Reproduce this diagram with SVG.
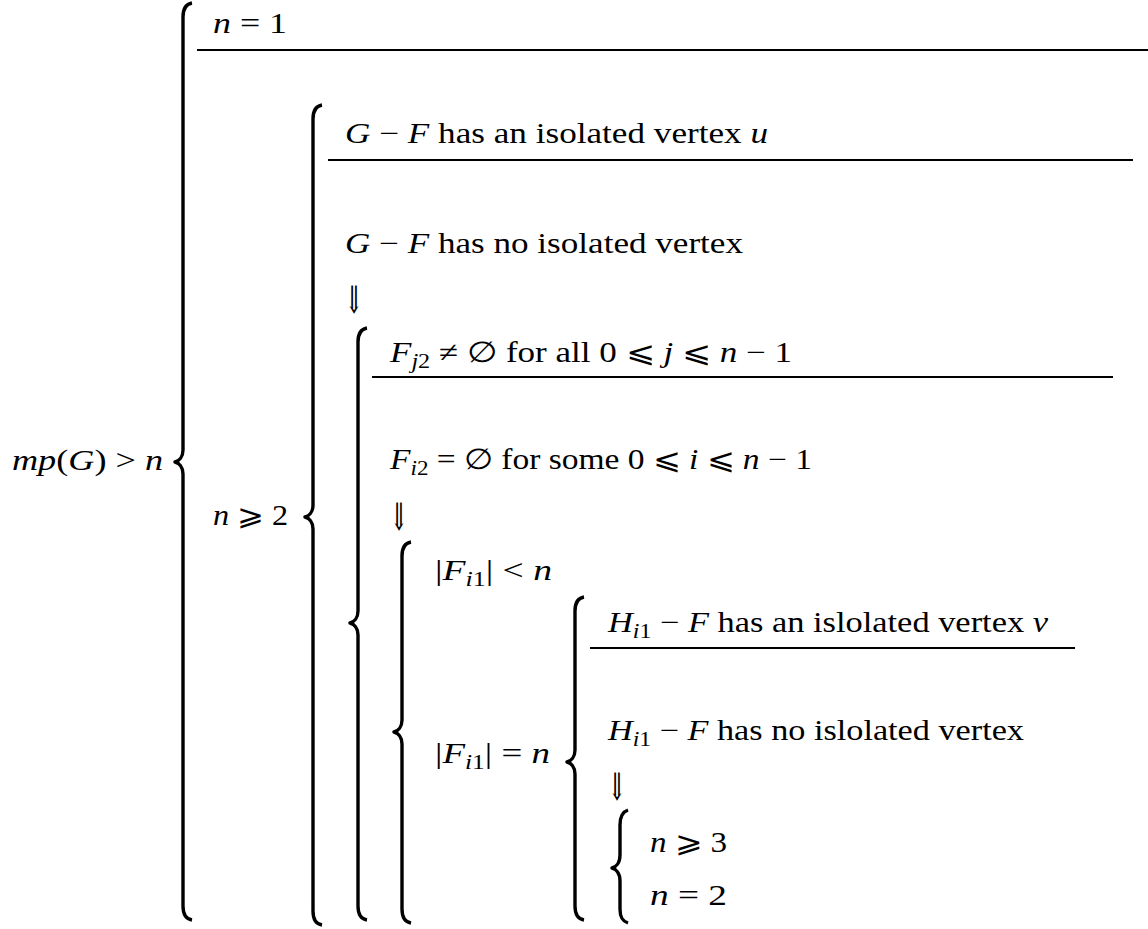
<svg xmlns="http://www.w3.org/2000/svg" width="1148" height="929" viewBox="0 0 1148 929">
<style>
text{font-family:"Liberation Serif","DejaVu Serif",serif;font-size:29px;fill:#000;}
.i{font-style:italic;}
.s{font-size:20px;}
.ar{font-family:"DejaVu Serif",serif;font-size:38px;}
.br{fill:none;stroke:#000;stroke-width:3.4;stroke-linejoin:round;}
.rule{stroke:#000;stroke-width:2;}
</style>
<rect width="1148" height="929" fill="#fff"/>
<g id="connectors">
<path class="br" d="M192,3 C186,4 183,9 183,17 L183,450 C183,457 179,461 175,462 C179,463 183,467 183,474 L183,906 C183,914 186,919 192,920"/>
<path class="br" d="M322,105 C316,106 313,111 313,119 L313,505 C313,512 309,516 305,517 C309,518 313,522 313,529 L313,911 C313,919 316,924 322,925"/>
<path class="br" d="M367,328 C361,329 358,334 358,342 L358,611 C358,618 354,622 350,623 C354,624 358,628 358,635 L358,906 C358,914 361,919 367,920"/>
<path class="br" d="M411,542 C405,543 402,548 402,556 L402,720 C402,727 398,731 394,732 C398,733 402,737 402,744 L402,909 C402,917 405,922 411,923"/>
<path class="br" d="M584,597 C578,598 575,603 575,611 L575,750 C575,757 571,761 567,762 C571,763 575,767 575,774 L575,906 C575,914 578,919 584,920"/>
<path class="br" d="M628,810 C622,812 620,817 620,825 L620,855 C620,863 616,867 612,868 C616,869 620,873 620,881 L620,909 C620,917 622,921 628,923"/>
<line class="rule" x1="197" y1="50" x2="1148" y2="50"/>
<line class="rule" x1="328" y1="160" x2="1133" y2="160"/>
<line class="rule" x1="372" y1="377" x2="1113" y2="377"/>
<line class="rule" x1="590" y1="648" x2="1075" y2="648"/>
</g>
<g id="root"><text x="12" y="470" textLength="151" lengthAdjust="spacingAndGlyphs"><tspan class="i">mp</tspan>(<tspan class="i">G</tspan>) &gt; <tspan class="i">n</tspan></text></g>
<g id="n1"><text x="213" y="33" textLength="74" lengthAdjust="spacingAndGlyphs"><tspan class="i">n</tspan> = 1</text></g>
<g id="n2"><text x="213" y="525" textLength="75" lengthAdjust="spacingAndGlyphs"><tspan class="i">n</tspan> ⩾ 2</text></g>
<g id="iso-u"><text x="345" y="143" textLength="423" lengthAdjust="spacingAndGlyphs"><tspan class="i">G</tspan> − <tspan class="i">F</tspan> has an isolated vertex <tspan class="i">u</tspan></text></g>
<g id="noiso"><text x="345" y="253" textLength="398" lengthAdjust="spacingAndGlyphs"><tspan class="i">G</tspan> − <tspan class="i">F</tspan> has no isolated vertex</text>
<text class="ar" x="345" y="313" textLength="18" lengthAdjust="spacingAndGlyphs">⇓</text></g>
<g id="fj2"><text x="390" y="362" textLength="402" lengthAdjust="spacingAndGlyphs"><tspan class="i">F</tspan><tspan class="s i" dy="6">j</tspan><tspan class="s">2</tspan><tspan dy="-6"> ≠ ∅ for all 0 ⩽ </tspan><tspan class="i">j</tspan> ⩽ <tspan class="i">n</tspan> − 1</text></g>
<g id="fi2"><text x="390" y="469" textLength="422" lengthAdjust="spacingAndGlyphs"><tspan class="i">F</tspan><tspan class="s i" dy="6">i</tspan><tspan class="s">2</tspan><tspan dy="-6"> = ∅ for some 0 ⩽ </tspan><tspan class="i">i</tspan> ⩽ <tspan class="i">n</tspan> − 1</text>
<text class="ar" x="390" y="530" textLength="18" lengthAdjust="spacingAndGlyphs">⇓</text></g>
<g id="fi1-lt"><text x="435" y="580" textLength="117" lengthAdjust="spacingAndGlyphs">|<tspan class="i">F</tspan><tspan class="s i" dy="6">i</tspan><tspan class="s">1</tspan><tspan dy="-6">| &lt; </tspan><tspan class="i">n</tspan></text></g>
<g id="fi1-eq"><text x="435" y="763" textLength="115" lengthAdjust="spacingAndGlyphs">|<tspan class="i">F</tspan><tspan class="s i" dy="6">i</tspan><tspan class="s">1</tspan><tspan dy="-6">| = </tspan><tspan class="i">n</tspan></text></g>
<g id="h-iso"><text x="608" y="632" textLength="440" lengthAdjust="spacingAndGlyphs"><tspan class="i">H</tspan><tspan class="s i" dy="6">i</tspan><tspan class="s">1</tspan><tspan dy="-6"> − </tspan><tspan class="i">F</tspan> has an islolated vertex <tspan class="i">v</tspan></text></g>
<g id="h-noiso"><text x="608" y="740" textLength="416" lengthAdjust="spacingAndGlyphs"><tspan class="i">H</tspan><tspan class="s i" dy="6">i</tspan><tspan class="s">1</tspan><tspan dy="-6"> − </tspan><tspan class="i">F</tspan> has no islolated vertex</text>
<text class="ar" x="608" y="800" textLength="18" lengthAdjust="spacingAndGlyphs">⇓</text></g>
<g id="n3"><text x="650" y="852" textLength="77" lengthAdjust="spacingAndGlyphs"><tspan class="i">n</tspan> ⩾ 3</text></g>
<g id="n2b"><text x="650" y="905" textLength="77" lengthAdjust="spacingAndGlyphs"><tspan class="i">n</tspan> = 2</text></g>
</svg>
